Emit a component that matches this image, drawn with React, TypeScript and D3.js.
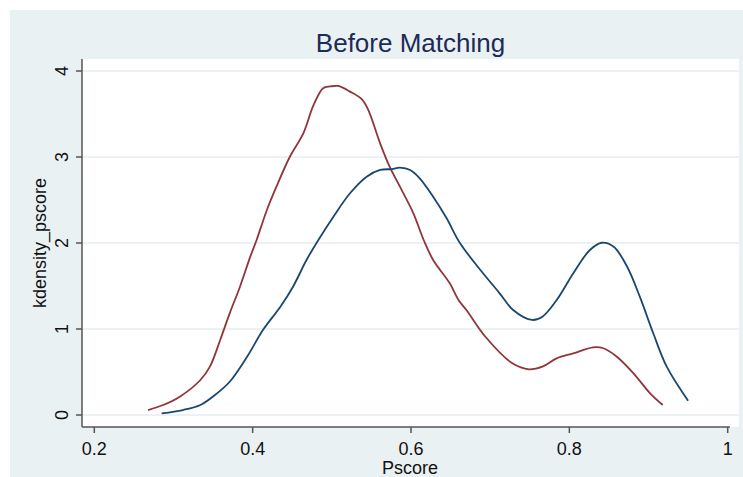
import React from 'react'
import * as d3 from 'd3'

// x ticks and y ticks
const xTicks = [0.2, 0.4, 0.6, 0.8, 1]
const yTicks = [0, 1, 2, 3, 4]

// kernel density of pscore, red group
const redX = [0.268, 0.287, 0.308, 0.334, 0.346, 0.359, 0.371, 0.384, 0.397, 0.405, 0.418, 0.43, 0.447, 0.464, 0.477, 0.489, 0.498, 0.508, 0.523, 0.538, 0.546, 0.561, 0.573, 0.586, 0.603, 0.616, 0.628, 0.649, 0.66, 0.67, 0.694, 0.728, 0.749, 0.766, 0.784, 0.805, 0.83, 0.843, 0.86, 0.881, 0.902, 0.918]
const redY = [0.058, 0.116, 0.213, 0.407, 0.562, 0.872, 1.182, 1.492, 1.841, 2.035, 2.384, 2.655, 3.003, 3.276, 3.605, 3.8, 3.82, 3.826, 3.76, 3.67, 3.547, 3.159, 2.887, 2.655, 2.345, 2.035, 1.802, 1.531, 1.337, 1.221, 0.91, 0.601, 0.531, 0.562, 0.659, 0.717, 0.787, 0.776, 0.678, 0.485, 0.252, 0.116]

// kernel density of pscore, blue group
const blueX = [0.285, 0.312, 0.334, 0.355, 0.371, 0.393, 0.413, 0.435, 0.451, 0.468, 0.483, 0.502, 0.523, 0.544, 0.561, 0.576, 0.586, 0.599, 0.611, 0.628, 0.645, 0.662, 0.691, 0.712, 0.729, 0.753, 0.766, 0.784, 0.805, 0.826, 0.841, 0.856, 0.873, 0.889, 0.906, 0.923, 0.95]
const blueY = [0.02, 0.058, 0.116, 0.252, 0.387, 0.678, 0.988, 1.259, 1.492, 1.802, 2.035, 2.306, 2.578, 2.771, 2.849, 2.86, 2.876, 2.849, 2.752, 2.538, 2.287, 1.997, 1.648, 1.415, 1.221, 1.105, 1.143, 1.337, 1.648, 1.919, 2.003, 1.957, 1.724, 1.376, 0.95, 0.562, 0.166]

const font = '"Liberation Sans", Arial, sans-serif'

export default function App() {
  const width = 743,
    height = 477

  // plot region
  const left = 82,
    top = 59,
    bottom = 427,
    right = 739

  const x = d3.scaleLinear().domain([0.2, 1]).range([94.3, 727.7])
  const y = d3.scaleLinear().domain([0, 4]).range([415, 71])

  // smooth line through the density points
  const toPath = (xs: number[], ys: number[]) =>
    d3
      .line<number>()
      .x((d, i) => x(xs[i]))
      .y(d => y(d))
      .curve(d3.curveCatmullRom.alpha(0.5))(ys) || ''

  return (
    <svg
      width={width}
      height={height}
      style={{ position: 'absolute', left: 0, top: 0 }}
      fontFamily={font}
    >
      <rect x={10} y={10} width={width - 10} height={height - 10} fill="#eaf1f3" />
      <rect x={left} y={top} width={right - left} height={bottom - top} fill="#fff" />

      {/* grid lines */}
      {yTicks.map(t => (
        <line key={t} x1={left} x2={right} y1={y(t)} y2={y(t)} stroke="#e6eef1" strokeWidth={1.5} />
      ))}

      {/* density curves */}
      <path d={toPath(redX, redY)} fill="none" stroke="#90353b" strokeWidth={1.8} />
      <path d={toPath(blueX, blueY)} fill="none" stroke="#1a476f" strokeWidth={1.8} />

      {/* axes */}
      <line x1={left} x2={left} y1={top} y2={bottom} stroke="#555" strokeWidth={1.5} />
      <line x1={left} x2={730} y1={bottom} y2={bottom} stroke="#555" strokeWidth={1.5} />

      {yTicks.map(t => (
        <g key={t} transform={`translate(${left}, ${y(t)})`}>
          <line x1={-6} x2={0} y1={0} y2={0} stroke="#555" strokeWidth={1.5} />
          <text transform="translate(-14, 0) rotate(-90)" textAnchor="middle" fontSize={18} fill="#111">
            {t}
          </text>
        </g>
      ))}

      {xTicks.map(t => (
        <g key={t} transform={`translate(${x(t)}, ${bottom})`}>
          <line x1={0} x2={0} y1={0} y2={6} stroke="#555" strokeWidth={1.5} />
          <text y={28} textAnchor="middle" fontSize={18} fill="#111">
            {t}
          </text>
        </g>
      ))}

      {/* titles */}
      <text x={(left + right) / 2} y={52} textAnchor="middle" fontSize={26} fill="#1c2b58">
        Before Matching
      </text>
      <text x={410} y={474} textAnchor="middle" fontSize={18} fill="#111">
        Pscore
      </text>
      <text
        transform={`translate(46, ${(top + bottom) / 2}) rotate(-90)`}
        textAnchor="middle"
        fontSize={18}
        fill="#111"
      >
        kdensity_pscore
      </text>
    </svg>
  )
}
